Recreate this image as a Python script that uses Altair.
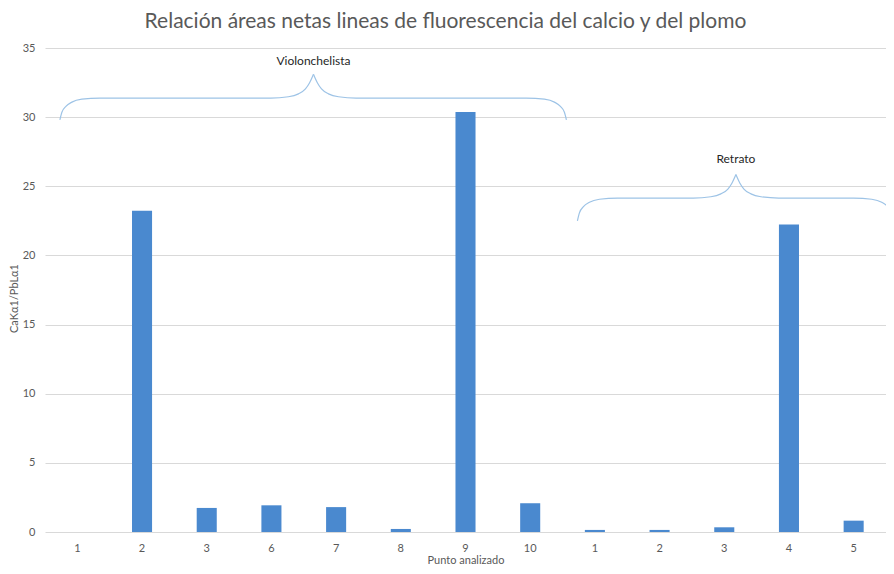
import altair as alt
import pandas as pd

# ---- data ----
groups = ["Violonchelista"] * 8 + ["Retrato"] * 5
points = ["1", "2", "3", "6", "7", "8", "9", "10", "1", "2", "3", "4", "5"]
ratios = [0.0, 23.23, 1.74, 1.93, 1.80, 0.22, 30.37, 2.08, 0.15, 0.15, 0.34, 22.24, 0.82]

keys = [f"{i:02d}-{p}" for i, p in enumerate(points)]
bars_df = pd.DataFrame({"key": keys, "punto": points, "grupo": groups, "ratio": ratios})

# brace annotations: (label, left, tip, right in category-slot units, end/flat/tip/label heights in y units)
brace_labels = ["Violonchelista", "Retrato"]
brace_left = [0.23, 8.23]
brace_tip = [4.15, 10.68]
brace_right = [8.06, 13.12]
brace_end_y = [29.8, 22.5]
brace_flat_y = [31.38, 24.15]
brace_tip_y = [33.1, 25.85]
brace_label_y = [34.05, 26.98]

# brace profile (fractions of curve width / height)
end_du = [0.0, 0.031, 0.093, 0.186, 0.34, 0.62]
end_dv = [0.0, 0.35, 0.62, 0.815, 0.947, 1.0]
tip_du = [-0.66, -0.387, -0.232, -0.124, -0.062, 0.0]
tip_dv = [0.0, 0.054, 0.177, 0.383, 0.63, 1.0]

rows = []
for b, lab in enumerate(brace_labels):
    for side, sgn, end_x in (("L", 1, brace_left[b]), ("R", -1, brace_right[b])):
        seg = f"{lab}-{side}"
        pts = []
        for du, dv in zip(end_du, end_dv):
            pts.append((end_x + sgn * du, brace_end_y[b] + dv * (brace_flat_y[b] - brace_end_y[b])))
        for du, dv in zip(tip_du, tip_dv):
            pts.append((brace_tip[b] + sgn * du, brace_flat_y[b] + dv * (brace_tip_y[b] - brace_flat_y[b])))
        pts.sort(key=lambda p: p[0])
        for o, (u, v) in enumerate(pts):
            rows.append({"seg": seg, "u": u, "v": v, "o": o})
brace_df = pd.DataFrame(rows)
label_df = pd.DataFrame({"label": brace_labels, "u": brace_tip, "v": brace_label_y})

FONT = "Lato"
GRAY = "#595959"

yscale = alt.Scale(domain=[0, 35], nice=False)

bars = alt.Chart(bars_df).mark_bar(color="#4a89cf").encode(
    x=alt.X("key:N", sort=keys,
            scale=alt.Scale(paddingInner=0.69, paddingOuter=0.345),
            axis=alt.Axis(title="Punto analizado", labelExpr="split(datum.value, '-')[1]",
                          labelAngle=0, ticks=False, domain=False, labelPadding=10,
                          labelColor=GRAY, labelFontSize=11, labelFont=FONT,
                          titleColor=GRAY, titleFontSize=11, titleFont=FONT,
                          titleFontWeight="normal", titlePadding=1)),
    y=alt.Y("ratio:Q", scale=yscale,
            axis=alt.Axis(title="CaKα1/PbLα1", values=[0, 5, 10, 15, 20, 25, 30, 35],
                          ticks=False, domain=False, gridColor="#d9d9d9", labelPadding=10,
                          labelColor=GRAY, labelFontSize=11, labelFont=FONT,
                          titleColor=GRAY, titleFontSize=11, titleFont=FONT,
                          titleFontWeight="normal", titleX=-26, titleY=250,
                          titleBaseline="bottom")),
)

xq = alt.Scale(domain=[0, 13], nice=False, zero=False)

braces = alt.Chart(brace_df).mark_line(color="#9dc3e6", strokeWidth=1.2,
                                       interpolate="monotone", clip=False).encode(
    x=alt.X("u:Q", scale=xq, axis=None),
    y=alt.Y("v:Q", scale=yscale),
    detail="seg:N",
    order="o:Q",
)

labels = alt.Chart(label_df).mark_text(font=FONT, fontSize=12, color="#262626",
                                       align="center", baseline="middle").encode(
    x=alt.X("u:Q", scale=xq, axis=None),
    y=alt.Y("v:Q", scale=yscale),
    text="label:N",
)

chart = alt.layer(bars, braces, labels).resolve_scale(x="independent").properties(
    width=841,
    height=484,
    autosize=alt.AutoSizeParams(type="none"),
    padding={"left": 37, "top": 40, "right": 0, "bottom": 34},
    title=alt.Title("Relación áreas netas lineas de fluorescencia del calcio y del plomo",
                    font=FONT, fontSize=21, color=GRAY, fontWeight="normal",
                    anchor="middle", frame="group", dx=-20, offset=10),
).configure_view(stroke=None)

chart.save("out.html", embed_options={"renderer": "svg", "actions": False})
